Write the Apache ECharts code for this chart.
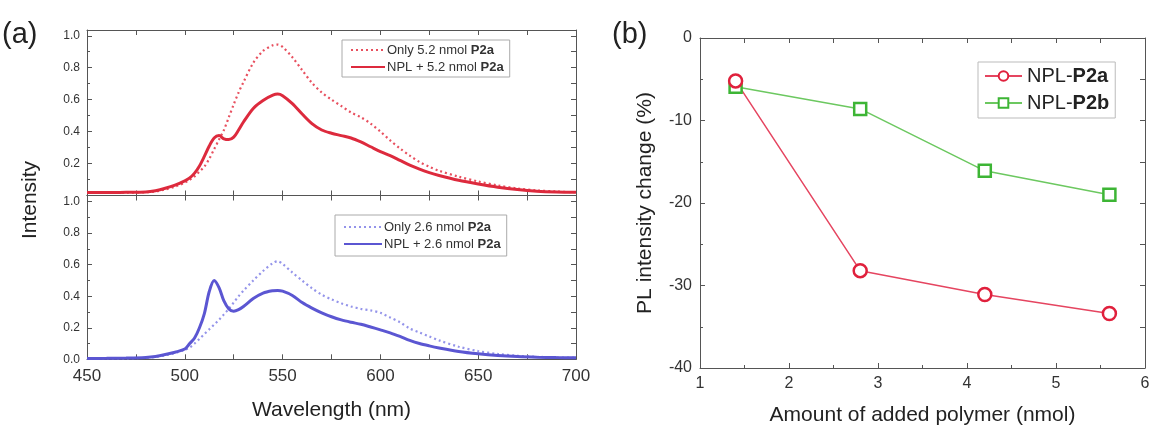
<!DOCTYPE html>
<html>
<head>
<meta charset="utf-8">
<script src="https://cdn.jsdelivr.net/npm/echarts@6/dist/echarts.min.js"></script>
<style>
  html, body { margin: 0; padding: 0; background: #fff; }
  #chart { width: 1159px; height: 431px; }
</style>
</head>
<body>
<div id="chart"></div>
<script>
// 光谱数据 (a)
const wavelength = [450, 460, 470, 480, 485, 490, 495, 500, 502.5, 505, 507.5, 510, 512.5, 515, 517.5, 520, 522.5, 525, 527.5, 530,
  535, 540, 545, 547.5, 550, 555, 560, 565, 570, 575, 580, 585, 590, 595, 600, 605, 610, 615, 620, 625, 630,
  640, 650, 660, 670, 680, 690, 700];
const onlyP2a52 = [0.018, 0.018, 0.018, 0.02, 0.025, 0.038, 0.055, 0.08, 0.098, 0.12, 0.15, 0.18, 0.23, 0.29, 0.35, 0.41, 0.49, 0.57, 0.645, 0.71,
  0.83, 0.905, 0.94, 0.945, 0.93, 0.865, 0.785, 0.705, 0.645, 0.6, 0.56, 0.52, 0.49, 0.45, 0.4, 0.345, 0.295, 0.25, 0.21, 0.18, 0.155,
  0.118, 0.088, 0.063, 0.044, 0.032, 0.025, 0.02];
const nplP2a52 = [0.018, 0.018, 0.02, 0.022, 0.03, 0.045, 0.065, 0.092, 0.11, 0.14, 0.185, 0.245, 0.31, 0.36, 0.375, 0.355, 0.35, 0.365, 0.41, 0.46,
  0.545, 0.595, 0.628, 0.635, 0.625, 0.575, 0.51, 0.45, 0.41, 0.39, 0.375, 0.36, 0.335, 0.305, 0.275, 0.25, 0.22, 0.19, 0.165, 0.143, 0.125,
  0.095, 0.072, 0.052, 0.037, 0.027, 0.022, 0.02];
const onlyP2a26 = [0.005, 0.005, 0.006, 0.01, 0.015, 0.025, 0.04, 0.06, 0.075, 0.1, 0.13, 0.16, 0.19, 0.22, 0.25, 0.285, 0.32, 0.36, 0.4, 0.435,
  0.5, 0.56, 0.61, 0.622, 0.605, 0.55, 0.5, 0.45, 0.41, 0.38, 0.355, 0.335, 0.32, 0.31, 0.295, 0.265, 0.235, 0.195, 0.17, 0.145, 0.12,
  0.08, 0.052, 0.034, 0.023, 0.016, 0.012, 0.01];
const nplP2a26 = [0.005, 0.006, 0.008, 0.012, 0.018, 0.03, 0.045, 0.065, 0.1, 0.135, 0.2, 0.29, 0.43, 0.5, 0.455, 0.37, 0.32, 0.305, 0.315, 0.335,
  0.385, 0.42, 0.435, 0.437, 0.432, 0.405, 0.36, 0.325, 0.295, 0.27, 0.25, 0.235, 0.222, 0.205, 0.187, 0.168, 0.145, 0.12, 0.1, 0.085, 0.072,
  0.05, 0.035, 0.024, 0.017, 0.013, 0.011, 0.01];

// PL 强度变化 (b)
const polymerAmount = [1.4, 2.8, 4.2, 5.6];
const changeP2a = [-5.2, -28.2, -31.1, -33.4];
const changeP2b = [-5.9, -8.6, -16.1, -19.0];

const FONT = 'Liberation Sans, Arial, sans-serif';
const AXIS_COLOR = '#555';

function pairs(xs, ys) {
  return xs.map((x, i) => [x, ys[i]]);
}

// 带刻度的框线轴
function boxAxis(opt) {
  return Object.assign({
    type: 'value',
    axisLine: { show: true, onZero: false, lineStyle: { color: AXIS_COLOR, width: 1 } },
    axisTick: { show: true, inside: true, length: 5, lineStyle: { color: AXIS_COLOR } },
    minorTick: { show: false },
    splitLine: { show: false },
    axisLabel: { show: false }
  }, opt);
}

function labelOnStep(step, digits, size, margin) {
  return {
    show: true, fontSize: size, color: '#333', fontFamily: FONT, margin: margin,
    formatter: v => {
      const k = v / step;
      if (Math.abs(k - Math.round(k)) > 1e-6) return '';
      return v.toFixed(digits);
    }
  };
}

// (a) 图例样式
function spectraLegend(left, top, names, itemWidth, padding) {
  return {
    left: left, top: top, orient: 'vertical', selectedMode: false,
    data: names,
    itemWidth: itemWidth, itemHeight: 10, itemGap: 3, padding: padding,
    itemStyle: { opacity: 0 },
    borderColor: '#aaa', borderWidth: 1, backgroundColor: '#fff',
    formatter: n => n.replace('P2a', '{b|P2a}'),
    textStyle: { fontSize: 13, lineHeight: 14, color: '#333', fontFamily: FONT, padding: [0, 0, 0, -3],
      rich: { b: { fontSize: 13, lineHeight: 14, fontWeight: 'bold', color: '#333', fontFamily: FONT } } }
  };
}

const chart = echarts.init(document.getElementById('chart'));

const topMax = 1.036, botMax = 1.039;

const option = {
  backgroundColor: '#fff',
  animation: false,
  grid: [
    { left: 87, top: 30, width: 489, height: 165.5 },
    { left: 87, top: 195.5, width: 489, height: 163.8 },
    { left: 700, top: 38, width: 445, height: 337 }
  ],
  xAxis: [
    boxAxis({ gridIndex: 0, min: 450, max: 700, interval: 25, position: 'bottom' }),
    boxAxis({ gridIndex: 0, min: 450, max: 700, interval: 25, position: 'top' }),
    boxAxis({ gridIndex: 1, min: 450, max: 700, interval: 25, position: 'bottom',
      axisLabel: labelOnStep(50, 0, 17, 9),
      name: 'Wavelength (nm)', nameLocation: 'middle', nameGap: 40,
      nameTextStyle: { fontSize: 21, color: '#222', fontFamily: FONT } }),
    boxAxis({ gridIndex: 1, min: 450, max: 700, interval: 25, position: 'top' }),
    boxAxis({ gridIndex: 2, min: 1, max: 6, interval: 1, position: 'bottom',
      minorTick: { show: true, splitNumber: 2, length: 3, lineStyle: { color: AXIS_COLOR } },
      axisLabel: labelOnStep(1, 0, 16, 8),
      name: 'Amount of added polymer (nmol)', nameLocation: 'middle', nameGap: 37,
      nameTextStyle: { fontSize: 21, color: '#222', fontFamily: FONT } }),
    boxAxis({ gridIndex: 2, min: 1, max: 6, interval: 0.5, position: 'top' })
  ],
  yAxis: [
    boxAxis({ gridIndex: 0, min: 0, max: topMax, interval: 0.2, position: 'left',
      minorTick: { show: true, splitNumber: 2, length: 3, lineStyle: { color: AXIS_COLOR } },
      axisLabel: Object.assign(labelOnStep(0.2, 1, 12, 7), {
        formatter: v => (v > 0.1 && Math.abs(v / 0.2 - Math.round(v / 0.2)) < 1e-6) ? v.toFixed(1) : ''
      }) }),
    boxAxis({ gridIndex: 0, min: 0, max: topMax, interval: 0.1, position: 'right' }),
    boxAxis({ gridIndex: 1, min: 0, max: botMax, interval: 0.2, position: 'left',
      minorTick: { show: true, splitNumber: 2, length: 3, lineStyle: { color: AXIS_COLOR } },
      axisLabel: labelOnStep(0.2, 1, 12, 7) }),
    boxAxis({ gridIndex: 1, min: 0, max: botMax, interval: 0.1, position: 'right' }),
    boxAxis({ gridIndex: 2, min: -40, max: 0, interval: 10, position: 'left',
      minorTick: { show: true, splitNumber: 2, length: 3, lineStyle: { color: AXIS_COLOR } },
      axisLabel: labelOnStep(10, 0, 16, 8),
      name: 'PL intensity change (%)', nameLocation: 'middle', nameGap: 44,
      nameTextStyle: { fontSize: 21, color: '#222', fontFamily: FONT } }),
    boxAxis({ gridIndex: 2, min: -40, max: 0, interval: 5, position: 'right' })
  ],
  legend: [
    spectraLegend(342, 40, ['Only 5.2 nmol P2a', 'NPL + 5.2 nmol P2a'], 34, [3, 6, 3, 8]),
    spectraLegend(335, 215, ['Only 2.6 nmol P2a', 'NPL + 2.6 nmol P2a'], 38, [5, 6, 5, 8]),
    {
      left: 978, top: 62, orient: 'vertical', selectedMode: false,
      data: ['NPL-P2a', 'NPL-P2b'],
      itemWidth: 37, itemHeight: 12, itemGap: 5, padding: [3, 6, 4, 6],
      borderColor: '#bbb', borderWidth: 1, backgroundColor: '#fff',
      formatter: n => n.replace(/(P2[ab])/, '{b|$1}'),
      textStyle: { fontSize: 20, lineHeight: 22, color: '#222', fontFamily: FONT,
        rich: { b: { fontSize: 20, lineHeight: 22, fontWeight: 'bold', color: '#222', fontFamily: FONT } } }
    }
  ],
  graphic: [
    { type: 'text', left: 2, top: 20, style: { text: '(a)', font: '29px ' + FONT, fill: '#222' } },
    { type: 'text', left: 612, top: 20, style: { text: '(b)', font: '29px ' + FONT, fill: '#222' } },
    { type: 'text', x: 30, y: 200, rotation: Math.PI / 2,
      style: { text: 'Intensity', font: '21px ' + FONT, fill: '#222', align: 'center', verticalAlign: 'middle' } }
  ],
  series: [
    {
      name: 'Only 5.2 nmol P2a', type: 'line', xAxisIndex: 0, yAxisIndex: 0,
      data: pairs(wavelength, onlyP2a52), symbol: 'none', smooth: 0.3,
      lineStyle: { color: '#e8505f', width: 2.2, type: [2, 3] }, itemStyle: { color: '#e8505f' }
    },
    {
      name: 'NPL + 5.2 nmol P2a', type: 'line', xAxisIndex: 0, yAxisIndex: 0,
      data: pairs(wavelength, nplP2a52), symbol: 'none', smooth: 0.3,
      lineStyle: { color: '#dd2a3d', width: 3 }, itemStyle: { color: '#dd2a3d' }
    },
    {
      name: 'Only 2.6 nmol P2a', type: 'line', xAxisIndex: 2, yAxisIndex: 2,
      data: pairs(wavelength, onlyP2a26), symbol: 'none', smooth: 0.3,
      lineStyle: { color: '#9494ea', width: 2.2, type: [2, 3] }, itemStyle: { color: '#9494ea' }
    },
    {
      name: 'NPL + 2.6 nmol P2a', type: 'line', xAxisIndex: 2, yAxisIndex: 2,
      data: pairs(wavelength, nplP2a26), symbol: 'none', smooth: 0.3,
      lineStyle: { color: '#5b56d2', width: 3 }, itemStyle: { color: '#5b56d2' }
    },
    {
      name: 'NPL-P2b', type: 'line', xAxisIndex: 4, yAxisIndex: 4,
      data: pairs(polymerAmount, changeP2b), symbol: 'rect', symbolSize: 12,
      lineStyle: { color: '#6cc860', width: 1.5 },
      itemStyle: { color: '#fff', borderColor: '#3db535', borderWidth: 2.5 }
    },
    {
      name: 'NPL-P2a', type: 'line', xAxisIndex: 4, yAxisIndex: 4,
      data: pairs(polymerAmount, changeP2a), symbol: 'circle', symbolSize: 13,
      lineStyle: { color: '#e54560', width: 1.5 },
      itemStyle: { color: '#fff', borderColor: '#e0203c', borderWidth: 2.5 }
    }
  ]
};

chart.setOption(option);
</script>
</body>
</html>
